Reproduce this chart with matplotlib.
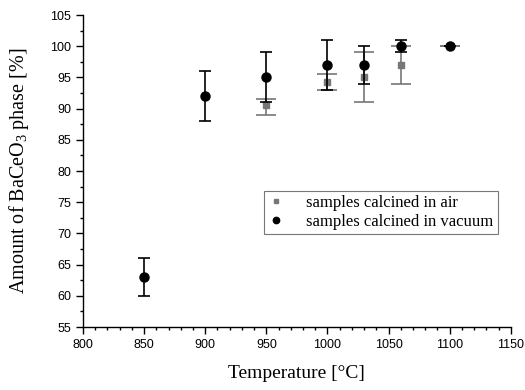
import matplotlib
matplotlib.use("Agg")
import matplotlib.pyplot as plt
from matplotlib.ticker import MultipleLocator

plt.rcParams['mathtext.fontset'] = 'custom'
plt.rcParams['mathtext.rm'] = 'Liberation Serif'
plt.rcParams['mathtext.it'] = 'Liberation Serif:italic'
plt.rcParams['mathtext.bf'] = 'Liberation Serif:bold'

# Data
temp_vac = [850, 900, 950, 1000, 1030, 1060, 1100]
val_vac = [63, 92, 95, 97, 97, 100, 100]
err_vac_low = [3, 4, 4, 4, 3, 1, 0]
err_vac_high = [3, 4, 4, 4, 3, 1, 0]

temp_air = [950, 1000, 1030, 1060, 1100]
val_air = [90.5, 94.3, 95, 97, 100]
err_air_low = [1.5, 1.3, 4, 3, 0]
err_air_high = [1.0, 1.2, 4, 3, 0]

xticks = [800, 850, 900, 950, 1000, 1050, 1100, 1150]
yticks = [55, 60, 65, 70, 75, 80, 85, 90, 95, 100, 105]

fig = plt.figure(figsize=(5.25, 3.9), dpi=100)
ax = fig.add_axes([0.158, 0.1615, 0.815, 0.80])

ax.errorbar(temp_air, val_air, yerr=[err_air_low, err_air_high], fmt='s',
            color='#777777', ecolor='#777777', markersize=5, capsize=7,
            elinewidth=1.2, capthick=1.2, label='samples calcined in air', zorder=2)
ax.errorbar(temp_vac, val_vac, yerr=[err_vac_low, err_vac_high], fmt='o',
            color='black', ecolor='black', markersize=6.5, capsize=4,
            elinewidth=1.2, capthick=1.2, label='samples calcined in vacuum', zorder=3)

ax.set_xlim(800, 1150)
ax.set_ylim(55, 105)
ax.set_xticks(xticks)
ax.set_yticks(yticks)
ax.xaxis.set_minor_locator(MultipleLocator(10))
ax.yaxis.set_minor_locator(MultipleLocator(2.5))

for s in ['top', 'right']:
    ax.spines[s].set_visible(False)
for s in ['left', 'bottom']:
    ax.spines[s].set_linewidth(1.0)

ax.tick_params(which='major', direction='out', length=5, width=1, labelsize=9)
ax.tick_params(which='minor', direction='out', length=2.5, width=1)
for lbl in ax.get_xticklabels() + ax.get_yticklabels():
    lbl.set_fontfamily('Liberation Sans')

ax.set_xlabel('Temperature [°C]', fontfamily='Liberation Serif', fontsize=14, labelpad=10)
ax.set_ylabel(r'Amount of BaCeO$_\mathregular{3}$ phase [%]', fontfamily='Liberation Serif',
              fontsize=14.5, labelpad=14)

handles, labels = ax.get_legend_handles_labels()
leg = ax.legend([h[0] for h in handles], labels, loc='upper left',
                bbox_to_anchor=(0.423, 0.436), frameon=True, fancybox=False,
                edgecolor='#555555', prop={'family': 'Liberation Serif', 'size': 12},
                handlelength=1.0, borderpad=0.25, labelspacing=0.15, handletextpad=1.3,
                markerscale=0.7, borderaxespad=0)
leg.get_frame().set_linewidth(0.8)

fig.savefig('out.png', dpi=100)
